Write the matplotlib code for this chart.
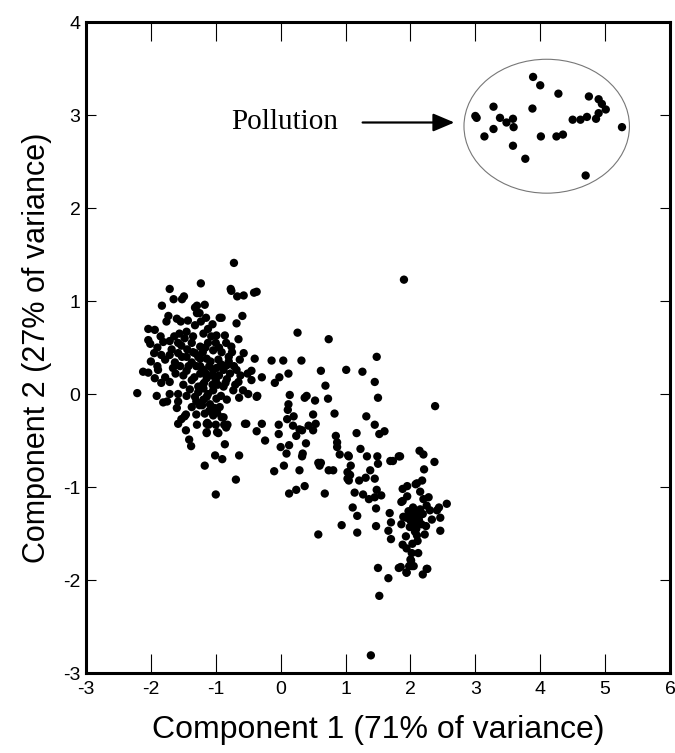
import matplotlib.pyplot as plt
from matplotlib.patches import Ellipse

# main cloud of samples (component scores)
main_x = [
    -0.72, 1.90, 1.39, 2.38,
    1.50, 1.66, 1.52, 1.82, 1.94, 2.02, 2.19, 2.26, 2.01,
    2.14, 2.20, 2.37, 2.21, 1.84, 2.18, 2.08, 1.95, 1.88, 1.95, 2.15, 2.20, 2.28, 1.86, 2.56, 2.44,
    2.41, 2.04, 2.05, 1.99, 2.12, 2.19, 1.89, 1.94, 2.33, 2.46, 1.86, 1.99, 2.06, 2.17, 2.07, 2.10,
    2.22, 2.46, 1.93, 2.03, 1.88, 1.94, 2.02, 2.12, 2.00, 1.98, 2.05, 2.25, 1.85, 1.94,
    2.08, 2.13, 2.00, 2.25, 2.30,
    -0.29, -0.24, 0.10, 0.20, 0.50, 0.83, 1.32, -0.03, 0.19, 0.29, 0.33, 0.43, 0.50, 0.54, -0.03,
    0.24, 0.39, 0.13, 0.00, 0.09, 0.34, 0.33, 0.05, -0.10, 0.29, 0.58, 0.62, 0.60, 0.74, 0.81, 0.85,
    0.87, 0.87, 0.91, 1.04, 1.05, 1.17, 1.23, 1.33, 1.45, 1.52, 1.60, 1.49, 1.50, 1.69, 1.73, 1.82,
    1.08, 1.03, 1.07, 1.03, 1.05, 1.21, 1.31, 1.38, 1.45, 1.14, 1.27, 1.36, 1.48, 1.45, 1.55, 0.13,
    0.24, 0.37, 0.68, 1.11, 1.18, 1.47, 0.94, 1.47, 1.18, 0.58, 1.68, 1.70, 1.66, 1.70, 1.88, 2.10,
    0.26, 0.74, -0.14, 0.04, 0.32, 1.48, 0.62, 1.01, 1.26, -0.29, -0.02, 0.12, -0.09, 1.45, 0.69,
    0.14, 0.37, 0.40, 0.53, 0.73, 1.50, 0.12, 0.11,
    -2.21, -1.81, -1.91, -1.58, -0.37, -1.48, -1.46, -1.53, -1.30, -1.58, -1.46, -1.29, -1.13, -1.11,
    -1.14, -0.98, -0.91, -0.84, -0.82, -0.53, -0.37, -1.41, -1.38, -0.86, -1.01, -0.90, -0.64, -1.17,
    -0.69, -1.00,
    -1.49, -1.65, -1.83, -1.29, -1.29, -1.73, -1.60, -1.54, -1.76, -1.43, -1.32, -1.23, -2.04, -1.94,
    -1.64, -1.45, -2.04, -2.01, -1.81, -1.71, -1.58, -1.53, -1.37, -1.24, -1.95, -1.84, -1.71, -1.58,
    -1.45, -1.32, -1.24, -1.78, -1.63, -1.37, -2.12, -2.04, -1.89, -1.94, -1.78, -1.71, -1.84, -1.50,
    -1.37, -1.24, -1.27, -1.71, -1.58, -1.45, -1.32, -1.19, -1.37,
    -0.76, -0.67, -0.57, -0.41, -1.17, -1.15, -1.05, -0.94, -0.91, -0.59, -0.68, -1.19, -0.99, -0.86,
    -0.65, -1.12, -1.00, -0.84, -0.76, -1.04, -0.91, -0.75, -0.57, -0.63, -0.40, -1.14, -0.96, -0.83,
    -1.19, -1.04, -0.88, -0.68, -0.51, -1.14, -1.00, -0.83, -0.65, -0.45, -1.19, -1.04, -0.88, -0.73,
    -0.58, -0.36, -0.64, -1.14, -0.99, -0.83, -1.09, -0.94, -1.17, -1.04, -0.88, -1.14, -1.00, -0.87,
    -0.55, -1.14, -0.96,
    -1.23, -1.71, -1.52, -0.77, -0.37, -1.32, -1.25,
    -1.55, -1.45, -1.40, -1.30, -1.20, -1.10, -1.05, -0.95, -0.92, -0.80, -0.78, -0.70, -1.25, -1.10,
    -0.98, -1.50, -1.62, -1.68, -1.90, -1.48, -1.35, -1.60, -1.75, -2.00, -1.12, -0.95, -1.18, -0.62,
    -0.50, -0.45,
    # dense core, extra overlapping samples
    -1.27, -1.20, -1.12, -1.05, -0.97, -1.33, -1.24, -1.15, -1.08, -0.99, -1.42, -1.30, -1.21, -1.02,
    -0.92, -0.85, -1.35, -1.27, -1.16, -1.07, -0.80, -0.72, -1.52, -1.44, -1.66, -1.56, -1.85, -1.90,
    2.02, 2.09, 2.15, 1.97, 2.24, 2.11,
]
main_y = [
    1.41, 1.23, -2.81, -0.13,
    -1.87, -1.98, -2.17, -1.87, -1.92, -1.85, -1.94, -1.88, -1.79,
    -0.61, -0.65, -0.73, -0.81, -0.67, -0.93, -0.97, -0.99, -1.02, -1.10, -1.05, -1.13, -1.11, -1.16, -1.18, -1.22,
    -1.25, -1.22, -1.27, -1.30, -1.28, -1.29, -1.32, -1.33, -1.35, -1.33, -1.40, -1.43, -1.40, -1.40, -1.48, -1.52,
    -1.51, -1.47, -1.53, -1.61, -1.62, -1.66, -1.71, -1.71, -1.78, -1.85, -1.85, -1.88, -1.86, -1.92,
    -1.30, -1.35, -1.36, -1.20, -1.25,
    -0.32, -0.50, -0.27, -0.24, -0.22, -0.21, -0.24, -0.33, -0.34, -0.38, -0.39, -0.34, -0.39, -0.32, -0.43,
    -0.45, -0.53, -0.55, -0.57, -0.64, -0.64, -0.67, -0.77, -0.83, -0.82, -0.74, -0.74, -0.77, -0.82, -0.82, -0.45,
    -0.52, -0.57, -0.65, -0.66, -0.67, -0.42, -0.59, -0.67, -0.33, -0.43, -0.40, -0.67, -0.75, -0.72, -0.72, -0.67,
    -0.77, -0.84, -0.87, -0.91, -0.93, -0.93, -0.90, -0.82, -0.91, -1.06, -1.08, -1.13, -1.03, -1.11, -1.09, -1.07,
    -1.03, -0.99, -1.07, -1.22, -1.31, -1.23, -1.41, -1.42, -1.49, -1.51, -1.28, -1.38, -1.47, -1.56, -1.15, -0.96,
    0.66, 0.59, 0.36, 0.36, 0.36, 0.40, 0.25, 0.26, 0.24, 0.18, 0.18, 0.22, 0.12, 0.13, 0.09,
    -0.01, -0.04, -0.02, -0.07, -0.05, -0.04, -0.11, -0.17,
    0.01, -0.09, -0.02, -0.08, -0.03, -0.24, -0.22, -0.27, -0.22, -0.32, -0.39, -0.33, -0.31, -0.33,
    -0.41, -0.41, -0.25, -0.36, -0.33, -0.32, -0.40, -0.49, -0.56, -0.54, -0.66, -0.70, -0.66, -0.77,
    -0.92, -1.08,
    1.05, 1.02, 0.95, 0.95, 0.87, 0.84, 0.81, 0.78, 0.78, 0.79, 0.74, 0.78, 0.70, 0.69,
    0.62, 0.67, 0.58, 0.54, 0.56, 0.57, 0.55, 0.52, 0.55, 0.51, 0.44, 0.42, 0.42, 0.44,
    0.40, 0.44, 0.38, 0.37, 0.34, 0.34, 0.24, 0.23, 0.26, 0.17, 0.18, 0.13, 0.12, 0.20,
    0.15, 0.22, 0.08, 0.00, 0.00, -0.02, -0.03, -0.06, -0.14,
    1.11, 1.05, 1.06, 1.09, 0.96, 0.82, 0.75, 0.82, 0.82, 0.84, 0.76, 0.65, 0.63, 0.63,
    0.59, 0.55, 0.55, 0.55, 0.51, 0.47, 0.45, 0.45, 0.44, 0.37, 0.38, 0.38, 0.37, 0.31,
    0.26, 0.26, 0.26, 0.26, 0.22, 0.17, 0.15, 0.16, 0.13, 0.15, 0.06, 0.04, 0.08, 0.04,
    0.04, -0.02, -0.04, -0.03, -0.05, -0.06, -0.11, -0.14, -0.21, -0.23, -0.25, -0.32, -0.33, -0.33,
    -0.32, -0.42, -0.42,
    1.19, 1.13, 1.02, 1.13, 1.10, 0.93, 0.87,
    0.30, 0.25, 0.05, 0.30, 0.45, 0.30, 0.10, 0.20, -0.02, 0.40, 0.22, 0.10, -0.12, -0.18,
    -0.20, 0.10, 0.22, 0.48, 0.50, 0.60, 0.62, -0.15, -0.08, 0.35, 0.70, 0.50, 0.12, 0.20,
    0.00, 0.25,
    0.02, 0.10, 0.00, 0.20, 0.10, 0.18, 0.30, 0.22, 0.35, 0.28, 0.30, -0.08, -0.12, -0.15,
    0.32, 0.12, 0.45, 0.40, 0.50, 0.62, 0.35, 0.30, 0.40, 0.48, 0.28, 0.65, 0.62, 0.30,
    -1.36, -1.45, -1.24, -1.26, -1.42, -1.58,
]

# polluted samples
pollution_x = [3.89, 4.00, 4.28, 4.75, 4.90, 4.95, 5.01, 4.90, 4.86, 4.72, 4.62, 4.50, 3.88, 3.28, 3.00,
               3.02, 3.38, 3.48, 3.58, 3.59, 3.28, 3.14, 4.01, 4.25, 4.35, 3.58, 3.77, 4.70, 5.26]
pollution_y = [3.41, 3.32, 3.23, 3.20, 3.17, 3.12, 3.06, 3.02, 2.96, 2.98, 2.95, 2.95, 3.07, 3.09, 2.99,
               2.97, 2.97, 2.92, 2.96, 2.87, 2.85, 2.77, 2.77, 2.77, 2.79, 2.67, 2.53, 2.35, 2.87]

x_ticks = [-3, -2, -1, 0, 1, 2, 3, 4, 5, 6]
y_ticks = [-3, -2, -1, 0, 1, 2, 3, 4]

plt.rcParams['font.family'] = ['Liberation Sans', 'DejaVu Sans']
plt.rcParams['axes.unicode_minus'] = False

fig = plt.figure(figsize=(6.75, 7.53), dpi=100)
ax = fig.add_axes([0.1274, 0.1062, 0.8652, 0.8645])

ax.scatter(main_x, main_y, s=36, c='black', edgecolors='none')
ax.scatter(pollution_x, pollution_y, s=36, c='black', edgecolors='none')

ax.add_patch(Ellipse((4.10, 2.88), 2.55, 1.44, fill=False, edgecolor='#777777', lw=0.8))

ax.text(-0.77, 2.92, 'Pollution', family=['Liberation Serif'], fontsize=21, va='center', ha='left')
ax.annotate('', xy=(2.72, 2.92), xytext=(1.22, 2.92),
            arrowprops=dict(arrowstyle='-|>,head_length=1.3,head_width=0.55', color='black', lw=1.6))

ax.set_xlim(-3, 6)
ax.set_ylim(-3, 4)
ax.set_xticks(x_ticks)
ax.set_yticks(y_ticks)
ax.tick_params(axis='both', direction='in', top=True, right=True, labelsize=14, width=0.8)
ax.tick_params(axis='x', length=14, pad=6)
ax.tick_params(axis='y', length=7, pad=4)
for sp in ax.spines.values():
    sp.set_linewidth(2.2)

ax.set_xlabel('Component 1 (71% of variance)', fontsize=23, labelpad=12)
ax.set_ylabel('Component 2 (27% of variance)', fontsize=22, labelpad=8)

fig.savefig('out.png', dpi=100)
